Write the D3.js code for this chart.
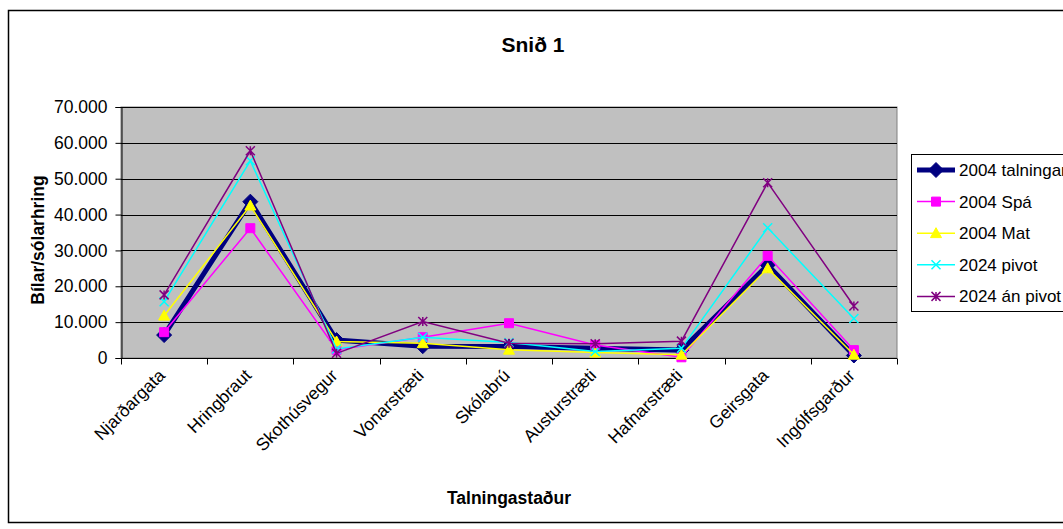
<!DOCTYPE html>
<html>
<head>
<meta charset="utf-8">
<script src="https://cdn.jsdelivr.net/npm/d3@7"></script>
<style>
  html, body { margin: 0; padding: 0; background: #fff; }
  svg { display: block; font-family: "Liberation Sans", Arial, sans-serif; }
</style>
</head>
<body>
<svg id="chart" width="1063" height="529"></svg>
<script>
// Traffic counts per location (vehicles per day)
const categories = ["Njarðargata", "Hringbraut", "Skothúsvegur", "Vonarstræti", "Skólabrú",
                    "Austurstræti", "Hafnarstræti", "Geirsgata", "Ingólfsgarður"];
const talningar2004 = [6400, 43600, 5000, 3300, 3200, 2700, 2200, 25900, 700];
const spa2004       = [7200, 36200, 2300, 5800, 9700, 3600, 200, 28500, 2200];
const mat2004       = [11800, 42500, 4600, 4100, 2300, 1500, 900, 25000, 900];
const pivot2024     = [15700, 55000, 2500, 5800, 4300, 1800, 2700, 36300, 11000];
const anPivot2024   = [17600, 57800, 1300, 10200, 4100, 4000, 4700, 48900, 14500];
const yTicks = [0, 10000, 20000, 30000, 40000, 50000, 60000, 70000];

const series = [
  { name: "2004 talningar", values: talningar2004, color: "#000080", width: 5,   marker: "diamond", r: 7.5 },
  { name: "2004 Spá",       values: spa2004,       color: "#FF00FF", width: 1.5, marker: "square",  r: 4.5 },
  { name: "2004 Mat",       values: mat2004,       color: "#FFFF00", width: 1.5, marker: "triangle", r: 5.5 },
  { name: "2024 pivot",     values: pivot2024,     color: "#00FFFF", width: 1.5, marker: "x",       r: 4.5 },
  { name: "2024 án pivot",  values: anPivot2024,   color: "#800080", width: 1.5, marker: "star",    r: 4.5 }
];

const svg = d3.select("#chart");
const plot = { left: 121, right: 897, top: 107, bottom: 358 };

// Outer chart frame
svg.append("rect")
  .attr("x", 8.5).attr("y", 10.5).attr("width", 1080).attr("height", 512)
  .attr("fill", "#fff").attr("stroke", "#000").attr("stroke-width", 1.5);

const x = d3.scaleBand().domain(categories).range([plot.left, plot.right]).padding(0);
const y = d3.scaleLinear().domain([0, 70000]).range([plot.bottom, plot.top]);
const cx = d => x(d) + x.bandwidth() / 2;

// Plot background
svg.append("rect")
  .attr("x", plot.left).attr("y", plot.top)
  .attr("width", plot.right - plot.left).attr("height", plot.bottom - plot.top)
  .attr("fill", "#C0C0C0").attr("stroke", "#808080").attr("stroke-width", 1);

// Horizontal gridlines
svg.append("g").selectAll("line")
  .data(yTicks.filter(t => t > 0))
  .join("line")
  .attr("x1", plot.left).attr("x2", plot.right)
  .attr("y1", d => Math.round(y(d)) + 0.5).attr("y2", d => Math.round(y(d)) + 0.5)
  .attr("stroke", "#000").attr("stroke-width", 1);

// Y axis
const fmt = d => d === 0 ? "0" : d3.format(",")(d).replace(/,/g, ".");
const yAxis = svg.append("g")
  .attr("transform", `translate(${plot.left + 0.5},0)`)
  .call(d3.axisLeft(y).tickValues(yTicks).tickFormat(fmt).tickSize(6).tickPadding(8));
yAxis.select(".domain").attr("stroke", "#000");
yAxis.selectAll(".tick line").attr("stroke", "#000");
yAxis.selectAll("text").attr("font-size", 17.5).attr("fill", "#000")
  .attr("font-family", "'Liberation Sans', Arial, sans-serif");

// X axis with ticks between categories
const xAxisG = svg.append("g").attr("transform", `translate(0,${plot.bottom + 0.5})`);
xAxisG.append("line")
  .attr("x1", plot.left).attr("x2", plot.right).attr("stroke", "#000");
xAxisG.selectAll("line.tick")
  .data(categories.concat(["__end"]))
  .join("line")
  .attr("class", "tick")
  .attr("x1", (d, i) => Math.round(plot.left + i * x.bandwidth()) + 0.5)
  .attr("x2", (d, i) => Math.round(plot.left + i * x.bandwidth()) + 0.5)
  .attr("y1", 0).attr("y2", 6).attr("stroke", "#000");
xAxisG.selectAll("text")
  .data(categories)
  .join("text")
  .attr("transform", d => `translate(${cx(d) + 2},${18}) rotate(-45)`)
  .attr("text-anchor", "end")
  .attr("font-size", 17.5)
  .attr("fill", "#000")
  .text(d => d);

// Lines and markers
const line = d3.line().x((d, i) => cx(categories[i])).y(d => y(d));

function markerPath(type, r) {
  const p = d3.path();
  if (type === "diamond") {
    p.moveTo(0, -r); p.lineTo(r, 0); p.lineTo(0, r); p.lineTo(-r, 0); p.closePath();
  } else if (type === "square") {
    p.rect(-r, -r, 2 * r, 2 * r);
  } else if (type === "triangle") {
    p.moveTo(0, -r); p.lineTo(r, r * 0.8); p.lineTo(-r, r * 0.8); p.closePath();
  } else if (type === "x") {
    p.moveTo(-r, -r); p.lineTo(r, r); p.moveTo(r, -r); p.lineTo(-r, r);
  } else if (type === "star") {
    p.moveTo(-r, -r); p.lineTo(r, r); p.moveTo(r, -r); p.lineTo(-r, r);
    p.moveTo(0, -r); p.lineTo(0, r);
  }
  return p.toString();
}

function drawMarker(g, s) {
  const filled = s.marker === "diamond" || s.marker === "square" || s.marker === "triangle";
  return g.append("path")
    .attr("d", markerPath(s.marker, s.r))
    .attr("fill", filled ? s.color : "none")
    .attr("stroke", s.color)
    .attr("stroke-width", filled ? 1 : 1.5);
}

series.forEach(s => {
  const g = svg.append("g");
  g.append("path")
    .datum(s.values)
    .attr("d", line)
    .attr("fill", "none")
    .attr("stroke", s.color)
    .attr("stroke-width", s.width)
    .attr("stroke-linejoin", "miter");
  s.values.forEach((v, i) => {
    drawMarker(g, s).attr("transform", `translate(${cx(categories[i])},${y(v)})`);
  });
});

// Title and axis titles
svg.append("text")
  .attr("x", 533).attr("y", 52)
  .attr("text-anchor", "middle").attr("font-size", 21).attr("font-weight", "bold")
  .text("Snið 1");

svg.append("text")
  .attr("transform", `translate(44,240) rotate(-90)`)
  .attr("text-anchor", "middle").attr("font-size", 17.5).attr("font-weight", "bold")
  .text("Bílar/sólarhring");

svg.append("text")
  .attr("x", (plot.left + plot.right) / 2).attr("y", 504)
  .attr("text-anchor", "middle").attr("font-size", 17.5).attr("font-weight", "bold")
  .text("Talningastaður");

// Legend
const legend = svg.append("g");
legend.append("rect")
  .attr("x", 911.5).attr("y", 154.5).attr("width", 200).attr("height", 157)
  .attr("fill", "#fff").attr("stroke", "#000").attr("stroke-width", 1);
series.forEach((s, i) => {
  const ly = 170 + i * 31.6;
  const g = legend.append("g");
  g.append("line")
    .attr("x1", 917).attr("x2", 955).attr("y1", ly).attr("y2", ly)
    .attr("stroke", s.color).attr("stroke-width", s.width);
  drawMarker(g, s).attr("transform", `translate(936,${ly})`);
  g.append("text")
    .attr("x", 959).attr("y", ly + 6)
    .attr("font-size", 17).attr("fill", "#000")
    .text(s.name);
});
</script>
</body>
</html>
